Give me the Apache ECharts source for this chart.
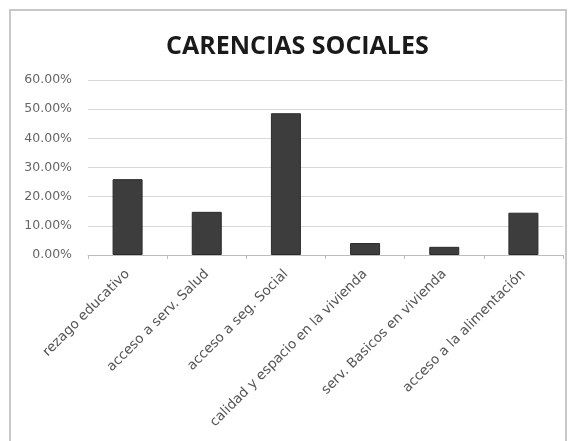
<!DOCTYPE html>
<html><head><meta charset="utf-8">
<script src="https://cdn.jsdelivr.net/npm/echarts@6/dist/echarts.min.js"></script>
<style>html,body{margin:0;padding:0;background:#fff}#c{width:577px;height:441px}</style>
</head><body><div id="c"></div>
<script>
const titleText = "CARENCIAS SOCIALES";
const categories = ["rezago educativo","acceso a serv. Salud","acceso a seg. Social","calidad y espacio en la vivienda","serv. Basicos en vivienda","acceso a la alimentación"];
const values = [26.0, 14.8, 48.6, 4.1, 2.8, 14.5];
const yTicks = {min:0, max:60, interval:10};

const chart = echarts.init(document.getElementById('c'));
chart.setOption({
  animation:false,
  backgroundColor:'#fff',
  graphic:[{type:'rect',shape:{x:10,y:10,width:556,height:440},style:{fill:'none',stroke:'#c8c8c8',lineWidth:2},silent:true}],
  title:{text:titleText,left:161,top:29,textStyle:{fontFamily:'Liberation Sans Narrow, Open Sans, sans-serif',fontWeight:'bold',fontSize:25,color:'#1a1a1a'}},
  grid:{left:88,right:14,top:80,bottom:186,containLabel:false},
  xAxis:{type:'category',data:categories,
    axisLine:{lineStyle:{color:'#bdbdbd'}},
    axisTick:{show:true,length:4,lineStyle:{color:'#bdbdbd'}},
    axisLabel:{rotate:45,interval:0,margin:17,color:'#555',fontFamily:'DejaVu Sans',fontSize:13.5}},
  yAxis:{type:'value',min:yTicks.min,max:yTicks.max,interval:yTicks.interval,
    axisLine:{show:false},axisTick:{show:false},
    splitLine:{lineStyle:{color:'#d9d9d9'}},
    axisLabel:{formatter:v=>v.toFixed(2)+'%',color:'#666',fontFamily:'DejaVu Sans',fontSize:12.5,margin:16}},
  series:[{type:'bar',data:values,barWidth:30,itemStyle:{color:'#3d3d3d',borderColor:'#2a2a2a',borderWidth:1}}]
});
</script></body></html>
